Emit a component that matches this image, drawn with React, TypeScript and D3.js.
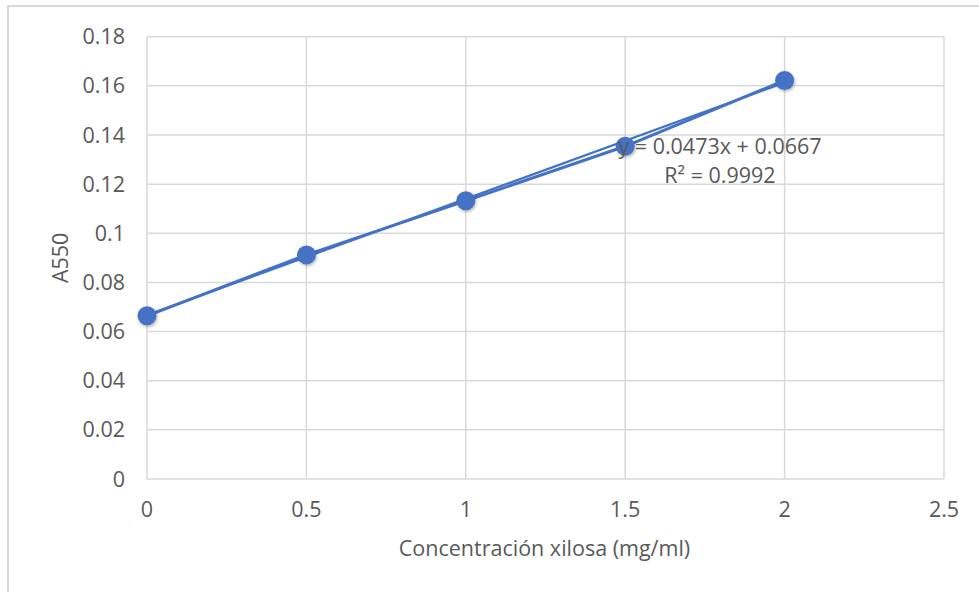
import React from "react";
import * as d3 from "d3";

const xValues = [0, 0.5, 1, 1.5, 2];
const yValues = [0.0664, 0.0912, 0.1132, 0.1354, 0.1622];
const xTicks = [0, 0.5, 1, 1.5, 2, 2.5];
const yTicks = [0, 0.02, 0.04, 0.06, 0.08, 0.1, 0.12, 0.14, 0.16, 0.18];
const slope = 0.0473;
const intercept = 0.0667;
const eqText = "y = 0.0473x + 0.0667";
const r2Text = "R² = 0.9992";
const xTitle = "Concentración xilosa (mg/ml)";
const yTitle = "A550";

const W = 979;
const H = 592;
const left = 147, right = 944, top = 36.7, bottom = 479;
const FONT = "'Open Sans', sans-serif";
const FS = 21.5;
const BLUE = "#4472C4";
const GRID = "#d9d9d9";
const TXT = "#595959";

export default function App() {
  const x = d3.scaleLinear().domain([0, 2.5]).range([left, right]);
  const y = d3.scaleLinear().domain([0, 0.18]).range([bottom, top]);
  const pts = xValues.map((v, i) => [v, yValues[i]] as [number, number]);
  const line = d3.line<[number, number]>().x(d => x(d[0])).y(d => y(d[1]));
  const trend: [number, number][] = [0, 2].map(v => [v, slope * v + intercept]);
  return (
    <svg width={W} height={H} style={{ position: "absolute", left: 0, top: 0, background: "#fff" }}>
      <defs>
        <filter id="sh" x="-50%" y="-50%" width="200%" height="200%">
          <feDropShadow dx="1" dy="1.5" stdDeviation="1.5" floodColor="#000" floodOpacity="0.3" />
        </filter>
      </defs>
      <rect x={0} y={0} width={W} height={H} fill="#fff" />
      <rect x={8} y={6} width={W + 20} height={H + 20} fill="none" stroke={GRID} strokeWidth={2} />
      {yTicks.map(t => (
        <line key={"gy" + t} x1={left} x2={right} y1={y(t)} y2={y(t)} stroke={GRID} strokeWidth={1.5} />
      ))}
      {xTicks.map(t => (
        <line key={"gx" + t} x1={x(t)} x2={x(t)} y1={top} y2={bottom} stroke={GRID} strokeWidth={1.5} />
      ))}
      {yTicks.map(t => (
        <text key={"ly" + t} x={left - 22} y={y(t)} dy="0.35em" textAnchor="end" fontFamily={FONT} fontSize={FS} fill={TXT}>
          {String(+t.toFixed(2))}
        </text>
      ))}
      {xTicks.map(t => (
        <text key={"lx" + t} x={x(t)} y={517} textAnchor="middle" fontFamily={FONT} fontSize={FS} fill={TXT}>
          {String(t)}
        </text>
      ))}
      <text x={(398 + 691) / 2} y={556} textAnchor="middle" fontFamily={FONT} fontSize={FS} fill={TXT}>{xTitle}</text>
      <text transform={`translate(68,${(top + bottom) / 2}) rotate(-90)`} textAnchor="middle" fontFamily={FONT} fontSize={FS} fill={TXT}>{yTitle}</text>
      <path d={line(pts) || ""} fill="none" stroke={BLUE} strokeWidth={3} strokeLinejoin="round" />
      <path d={line(trend) || ""} fill="none" stroke={BLUE} strokeWidth={2.2} />
      {pts.map((p, i) => (
        <circle key={i} cx={x(p[0])} cy={y(p[1])} r={9.5} fill={BLUE} filter="url(#sh)" />
      ))}
      <text x={720} y={154} textAnchor="middle" fontFamily={FONT} fontSize={FS} fill={TXT}>{eqText}</text>
      <text x={720} y={183} textAnchor="middle" fontFamily={FONT} fontSize={FS} fill={TXT}>{r2Text}</text>
    </svg>
  );
}
